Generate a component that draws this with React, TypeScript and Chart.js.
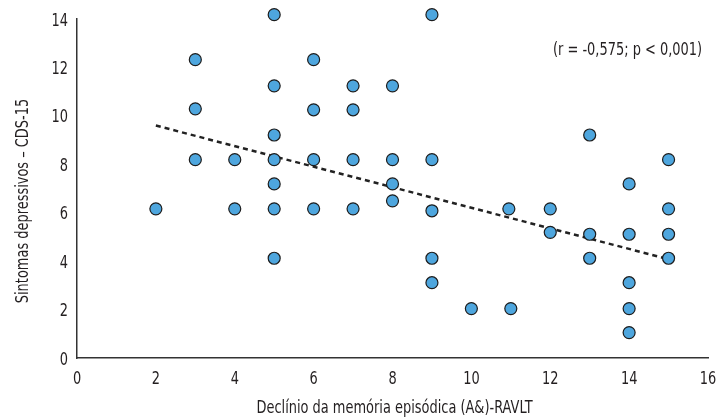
import React, { useEffect, useRef } from 'react';
import { Chart, registerables } from 'chart.js';

Chart.register(...registerables);

// Scatter data (x = Declínio da memória episódica, y = Sintomas depressivos)
const pointX = [
  2,
  3, 3, 3,
  4, 4,
  5, 5, 5, 5, 5, 5, 5,
  6, 6, 6, 6,
  7, 7, 7, 7,
  8, 8, 8, 8,
  9, 9, 9, 9, 9,
  10,
  10.95, 11,
  12, 12,
  13, 13, 13,
  14, 14, 14, 14, 14,
  15, 15, 15, 15,
];
const pointY = [
  6.16,
  12.32, 10.29, 8.19,
  8.19, 6.16,
  14.18, 11.24, 9.21, 8.19, 7.19, 6.16, 4.12,
  12.32, 10.25, 8.19, 6.16,
  11.24, 10.25, 8.19, 6.16,
  11.24, 8.19, 7.19, 6.49,
  14.18, 8.19, 6.08, 4.12, 3.11,
  2.04,
  6.16, 2.04,
  6.16, 5.19,
  9.21, 5.11, 4.12,
  7.19, 5.11, 3.11, 2.04, 1.05,
  8.19, 6.16, 5.11, 4.12,
];

// Regression (trend) line end points
const trendX = [2, 15];
const trendY = [9.6, 4.08];

const yTicks = [0, 2, 4, 6, 8, 10, 12, 14];
const xTicks = [0, 2, 4, 6, 8, 10, 12, 14, 16];

const xTitle = 'Declínio da memória episódica (A&)-RAVLT';
const yTitle = 'Sintomas depressivos – CDS-15';
const annotationText = '(r = -0,575; p < 0,001)';
const annotationPos = [15.85, 12.78];

const FONT = '"DejaVu Sans Condensed", "DejaVu Sans", sans-serif';
const FONT_SIZE = 18;
const SQUEEZE = 0.8;
const TEXT = '#231f20';

function drawText(
  ctx: CanvasRenderingContext2D,
  text: string,
  x: number,
  y: number,
  align: CanvasTextAlign,
  baseline: CanvasTextBaseline,
  rotate = 0,
) {
  ctx.save();
  ctx.translate(x, y);
  if (rotate) ctx.rotate(rotate);
  ctx.scale(SQUEEZE, 1);
  ctx.font = `${FONT_SIZE}px ${FONT}`;
  ctx.fillStyle = TEXT;
  ctx.textAlign = align;
  ctx.textBaseline = baseline;
  ctx.fillText(text, 0, 0);
  ctx.restore();
}

export default function App() {
  const ref = useRef<HTMLCanvasElement | null>(null);

  useEffect(() => {
    document.body.style.margin = '0';
    const canvas = ref.current;
    if (!canvas) return;

    const textPlugin = {
      id: 'condensedText',
      afterDraw(chart: any) {
        const { ctx, scales, chartArea } = chart;
        const xs = scales.x;
        const ys = scales.y;
        // y tick labels
        ys.ticks.forEach((t: any) => {
          drawText(ctx, String(t.value), chartArea.left - 9, ys.getPixelForValue(t.value) + 6.5, 'right', 'alphabetic');
        });
        // x tick labels
        xs.ticks.forEach((t: any) => {
          drawText(ctx, String(t.value), xs.getPixelForValue(t.value), chartArea.bottom + 25.5, 'center', 'alphabetic');
        });
        // axis titles
        drawText(ctx, xTitle, (chartArea.left + chartArea.right) / 2 + 2, chartArea.bottom + 55, 'center', 'alphabetic');
        drawText(ctx, yTitle, 28, 201, 'center', 'alphabetic', -Math.PI / 2);
        // correlation annotation
        drawText(ctx, annotationText, xs.getPixelForValue(annotationPos[0]), ys.getPixelForValue(annotationPos[1]) + 6, 'right', 'alphabetic');
      },
    };

    const chart = new Chart(canvas, {
      type: 'scatter',
      data: {
        datasets: [
          {
            type: 'line',
            label: 'trend',
            data: trendX.map((x, i) => ({ x, y: trendY[i] })),
            borderColor: '#222222',
            borderWidth: 2.5,
            borderDash: [5, 4],
            pointRadius: 0,
            fill: false,
            order: 2,
          } as any,
          {
            label: 'dados',
            data: pointX.map((x, i) => ({ x, y: pointY[i] })),
            backgroundColor: '#4ea6de',
            borderColor: '#1c1c1c',
            borderWidth: 1.2,
            pointRadius: 6,
            pointHoverRadius: 6,
            order: 1,
          },
        ],
      },
      options: {
        responsive: false,
        animation: false,
        events: [],
        clip: false as any,
        layout: { padding: { top: 19, right: 11, bottom: 0, left: 0 } },
        plugins: {
          legend: { display: false },
          tooltip: { enabled: false },
        },
        scales: {
          x: {
            type: 'linear',
            min: 0,
            max: 16,
            afterFit: (s: any) => { s.height = 62; },
            afterBuildTicks: (s: any) => { s.ticks = xTicks.map((v) => ({ value: v })); },
            grid: { display: false, drawTicks: false },
            border: { display: true, color: '#333333', width: 1.5 },
            ticks: { display: false },
          },
          y: {
            type: 'linear',
            min: 0,
            max: 14,
            afterFit: (s: any) => { s.width = 77; },
            afterBuildTicks: (s: any) => { s.ticks = yTicks.map((v) => ({ value: v })); },
            grid: { display: false, drawTicks: false },
            border: { display: true, color: '#333333', width: 1.5 },
            ticks: { display: false },
          },
        },
      },
      plugins: [textPlugin],
    });

    return () => chart.destroy();
  }, []);

  return (
    <div style={{ position: 'absolute', left: 0, top: 0, width: 719, height: 420 }}>
      <canvas ref={ref} width={719} height={420} style={{ width: 719, height: 420 }} />
    </div>
  );
}
